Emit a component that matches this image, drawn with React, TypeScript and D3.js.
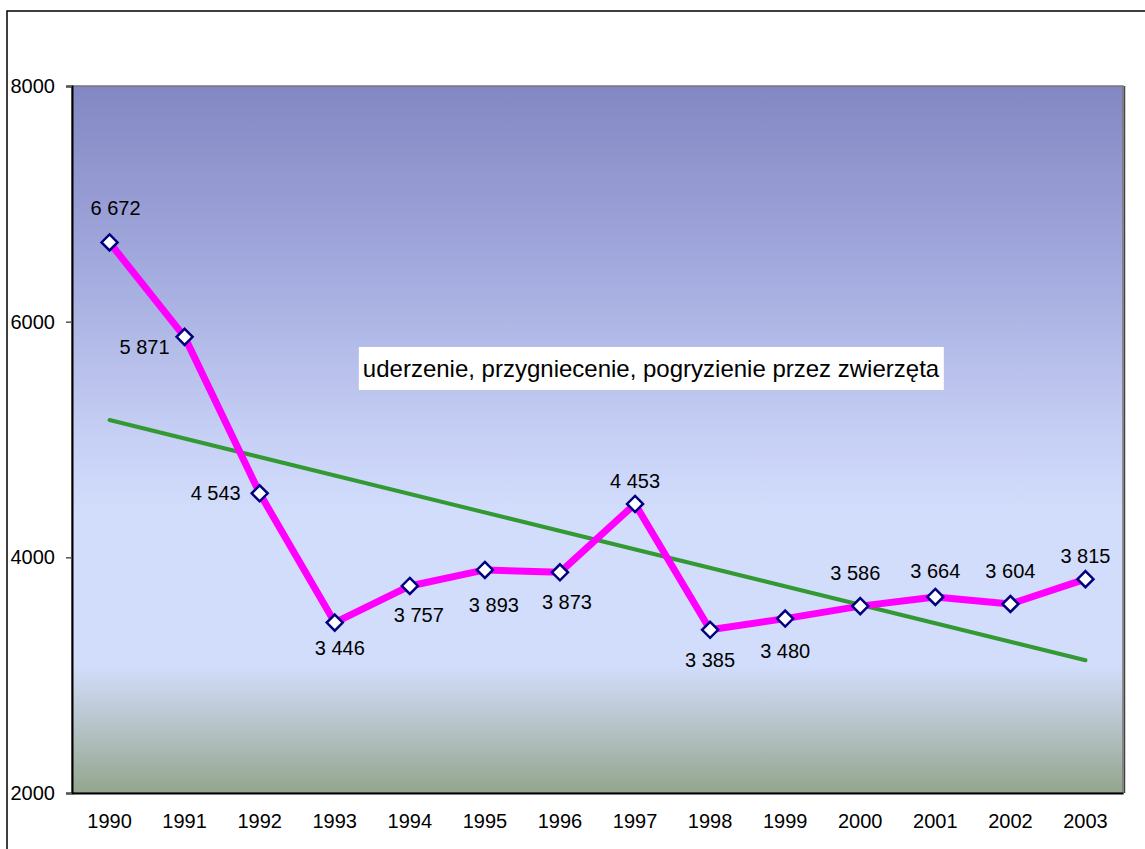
import React, { useRef, useEffect } from "react";
import * as d3 from "d3";

const years = ["1990", "1991", "1992", "1993", "1994", "1995", "1996", "1997", "1998", "1999", "2000", "2001", "2002", "2003"];
const values = [6672, 5871, 4543, 3446, 3757, 3893, 3873, 4453, 3385, 3480, 3586, 3664, 3604, 3815];
const yTicks = [2000, 4000, 6000, 8000];
const seriesName = "uderzenie, przygniecenie, pogryzienie przez zwierzęta";

// label nudges relative to the marker (dx, dy), as placed in the original
const labelNudge: [number, number][] = [
  [6, -34], [-40, 10], [-44, 0], [5, 25], [9, 29], [9, 35], [7, 30],
  [0, -23], [0, 30], [0, 32], [-5, -33], [0, -26], [0, -33], [0, -23],
];

function App() {
  const svgRef = useRef<SVGSVGElement | null>(null);

  useEffect(() => {
    const width = 1145;
    const height = 849;
    const plot = { left: 72, top: 86, right: 1123, bottom: 793 };
    const font = "Arial, 'Liberation Sans', sans-serif";

    const svg = d3.select(svgRef.current).attr("width", width).attr("height", height);
    svg.selectAll("*").remove();

    svg.append("rect").attr("width", width).attr("height", height).attr("fill", "#fff");

    // outer chart border (runs off the right and bottom)
    svg.append("rect")
      .attr("x", 7).attr("y", 11)
      .attr("width", width + 20).attr("height", height + 20)
      .attr("fill", "none").attr("stroke", "#000").attr("stroke-width", 1.5);

    const x = d3.scaleBand().domain(years).range([plot.left, plot.right]);
    const y = d3.scaleLinear().domain([2000, 8000]).range([plot.bottom, plot.top]);
    const cx = (i: number) => (x(years[i]) as number) + x.bandwidth() / 2;

    // background gradient
    const defs = svg.append("defs");
    const grad = defs.append("linearGradient")
      .attr("id", "bg-grad").attr("x1", "0").attr("x2", "0").attr("y1", "0").attr("y2", "1");
    [
      [0, "#8387c3"], [0.25, "#a2a9dd"], [0.5, "#c7d0f5"], [0.6, "#d2ddfc"],
      [0.82, "#d2ddfb"], [0.88, "#bfcbd8"], [1, "#93a68d"],
    ].forEach(([o, c]) => grad.append("stop").attr("offset", o as number).attr("stop-color", c as string));

    svg.append("rect")
      .attr("x", plot.left).attr("y", plot.top)
      .attr("width", plot.right - plot.left).attr("height", plot.bottom - plot.top)
      .attr("fill", "url(#bg-grad)")
      .attr("stroke", "#777").attr("stroke-width", 1.5);
    svg.append("line")
      .attr("x1", plot.right + 1.5).attr("x2", plot.right + 1.5)
      .attr("y1", plot.top).attr("y2", plot.bottom)
      .attr("stroke", "#444").attr("stroke-width", 1.5);

    // y axis
    const yAxis = svg.append("g")
      .attr("transform", `translate(${plot.left}, 0)`)
      .call(d3.axisLeft(y).tickValues(yTicks).tickSize(6).tickPadding(11).tickFormat(d3.format("d")));
    yAxis.select(".domain").attr("stroke", "#000").attr("stroke-width", 2);
    yAxis.selectAll(".tick line").attr("stroke", "#555").attr("stroke-width", 1.5);
    yAxis.selectAll("text").attr("font-family", font).attr("font-size", 20).attr("fill", "#000");

    // x axis
    const xAxis = svg.append("g")
      .attr("transform", `translate(0, ${plot.bottom})`)
      .call(d3.axisBottom(x).tickSize(0).tickPadding(21));
    xAxis.select(".domain").attr("stroke", "#000").attr("stroke-width", 2);
    xAxis.selectAll("text").attr("font-family", font).attr("font-size", 20).attr("fill", "#000");

    // linear trend line (least squares over the series)
    const n = values.length;
    const mx = (n - 1) / 2;
    const my = d3.mean(values) as number;
    const sxy = d3.sum(values, (v, i) => (i - mx) * (v - my));
    const sxx = d3.sum(values, (_v, i) => (i - mx) * (i - mx));
    const slope = sxy / sxx;
    const trend = (i: number) => my + slope * (i - mx);
    svg.append("line")
      .attr("x1", cx(0)).attr("y1", y(trend(0)))
      .attr("x2", cx(n - 1)).attr("y2", y(trend(n - 1)))
      .attr("stroke", "#339933").attr("stroke-width", 4).attr("stroke-linecap", "round");

    // series line
    const line = d3.line<number>().x((_d, i) => cx(i)).y((d) => y(d));
    svg.append("path")
      .datum(values)
      .attr("d", line)
      .attr("fill", "none")
      .attr("stroke", "#ff00ff")
      .attr("stroke-width", 7)
      .attr("stroke-linejoin", "round");

    // markers
    svg.append("g")
      .selectAll("path")
      .data(values)
      .enter()
      .append("path")
      .attr("d", "M0,-8L8,0L0,8L-8,0Z")
      .attr("transform", (d, i) => `translate(${cx(i)}, ${y(d)})`)
      .attr("fill", "#fff")
      .attr("stroke", "#000080")
      .attr("stroke-width", 2.5);

    // data labels
    const fmt = (v: number) => d3.format(",")(v).replace(",", " ");
    svg.append("g")
      .selectAll("text")
      .data(values)
      .enter()
      .append("text")
      .attr("x", (d, i) => cx(i) + labelNudge[i][0])
      .attr("y", (d, i) => y(d) + labelNudge[i][1])
      .attr("dy", "0.35em")
      .attr("text-anchor", "middle")
      .attr("font-family", font)
      .attr("font-size", 20)
      .attr("fill", "#000")
      .text((d) => fmt(d));

    // series name box
    const legend = svg.append("g");
    const lt = legend.append("text")
      .attr("x", 651).attr("y", 369)
      .attr("dy", "0.35em")
      .attr("text-anchor", "middle")
      .attr("font-family", font)
      .attr("font-size", 24)
      .attr("fill", "#000")
      .text(seriesName);
    const bb = (lt.node() as SVGTextElement).getBBox();
    legend.insert("rect", "text")
      .attr("x", bb.x - 4).attr("y", 347)
      .attr("width", bb.width + 8).attr("height", 43)
      .attr("fill", "#fff");
  }, []);

  return <svg ref={svgRef} style={{ position: "absolute", left: 0, top: 0, display: "block" }}></svg>;
}

export default App;
